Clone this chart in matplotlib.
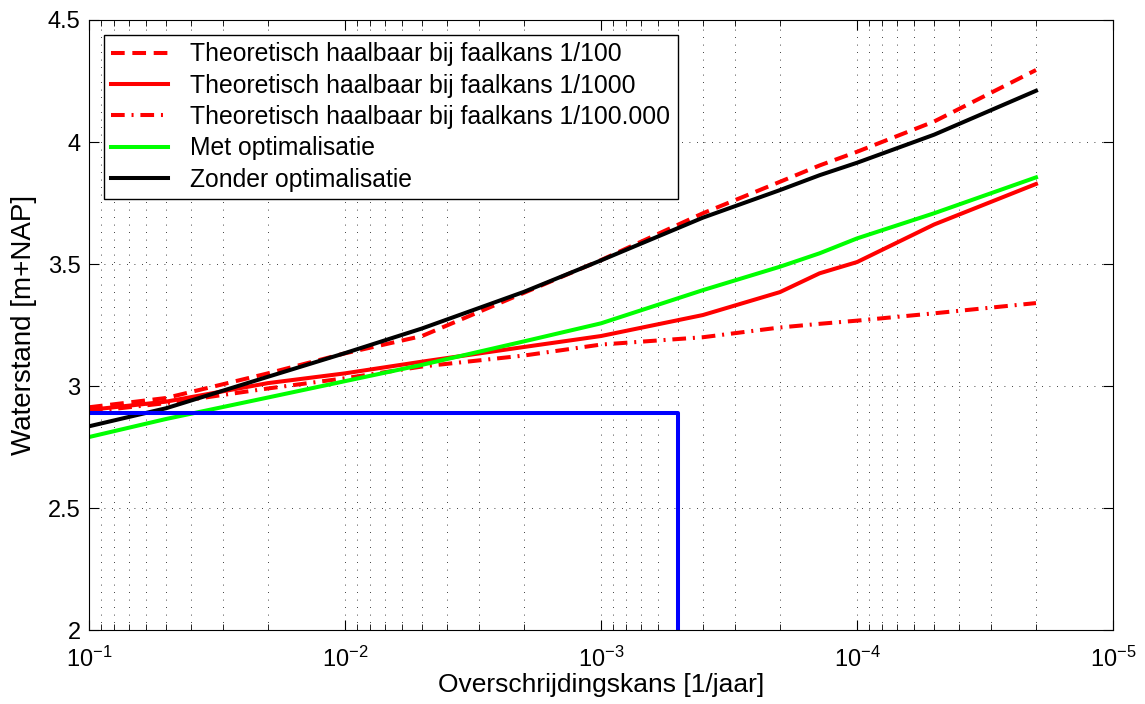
import matplotlib
matplotlib.use("Agg")
import matplotlib.pyplot as plt
from matplotlib.ticker import FormatStrFormatter, LogLocator, NullFormatter

plt.rcParams['font.family'] = ['Liberation Sans', 'DejaVu Sans']

# exceedance probability [1/jaar]
kans = [1e-1, 5e-2, 2e-2, 1e-2, 5e-3, 2e-3, 1e-3, 4e-4, 2e-4, 1.4e-4, 1e-4, 5e-5, 2e-5]

# water levels [m+NAP]
faal_100 = [2.913, 2.951, 3.052, 3.134, 3.205, 3.382, 3.516, 3.708, 3.837, 3.904, 3.960, 4.084, 4.295]
faal_1000 = [2.902, 2.936, 3.012, 3.052, 3.100, 3.160, 3.205, 3.291, 3.385, 3.462, 3.508, 3.662, 3.828]
faal_100000 = [2.895, 2.930, 2.990, 3.032, 3.080, 3.125, 3.170, 3.200, 3.240, 3.255, 3.268, 3.298, 3.340]
met_opt = [2.791, 2.865, 2.953, 3.020, 3.087, 3.183, 3.257, 3.393, 3.489, 3.544, 3.605, 3.708, 3.855]
zonder_opt = [2.835, 2.909, 3.038, 3.135, 3.236, 3.386, 3.515, 3.690, 3.803, 3.864, 3.915, 4.030, 4.210]

# blue reference line
ref_kans = [1e-1, 5e-4, 5e-4]
ref_level = [2.89, 2.89, 2.0]

fig = plt.figure(figsize=(11.45, 7.04), dpi=100)
ax = fig.add_axes([0.0777, 0.105, 0.8944, 0.8666])

lw = 2.9
ax.plot(kans, faal_100, color='red', lw=lw, dashes=(3.4, 1.9),
        label='Theoretisch haalbaar bij faalkans 1/100')
ax.plot(kans, faal_1000, color='red', lw=lw,
        label='Theoretisch haalbaar bij faalkans 1/1000')
ax.plot(kans, faal_100000, color='red', lw=lw, dashes=(3.4, 1.7, 0.5, 1.7),
        label='Theoretisch haalbaar bij faalkans 1/100.000')
ax.plot(kans, met_opt, color='#00ff00', lw=lw, label='Met optimalisatie')
ax.plot(kans, zonder_opt, color='black', lw=lw, label='Zonder optimalisatie')
ax.plot(ref_kans, ref_level, color='blue', lw=lw)

ax.set_xscale('log')
ax.set_xlim(1e-1, 1e-5)
ax.set_ylim(2, 4.5)
ax.set_yticks([2, 2.5, 3, 3.5, 4, 4.5])
ax.yaxis.set_major_formatter(FormatStrFormatter('%g'))
ax.xaxis.set_major_locator(LogLocator(base=10, numticks=10))
ax.xaxis.set_minor_locator(LogLocator(base=10, subs=range(2, 10), numticks=20))
ax.xaxis.set_minor_formatter(NullFormatter())

ax.tick_params(which='both', direction='in', top=True, right=True)
ax.tick_params(which='major', length=7, labelsize=17)
ax.tick_params(which='minor', length=4)
ax.tick_params(axis='x', which='major', pad=12)
ax.tick_params(axis='y', which='major', pad=6)

ax.grid(True, which='major', axis='both', color='black', lw=0.6, linestyle=(0, (1, 8)))
ax.grid(True, which='minor', axis='x', color='black', lw=0.6, linestyle=(0, (1, 8)))

ax.set_xlabel('Overschrijdingskans [1/jaar]', fontsize=19, labelpad=1)
ax.set_ylabel('Waterstand [m+NAP]', fontsize=20, labelpad=8)

leg = ax.legend(loc='upper left', fontsize=17.8, handlelength=2.3, labelspacing=0.3,
                fancybox=False, framealpha=1, edgecolor='black', borderaxespad=0.6,
                handletextpad=0.9, borderpad=0.3)
leg.get_frame().set_linewidth(1.0)

fig.savefig('out.png', dpi=100)
